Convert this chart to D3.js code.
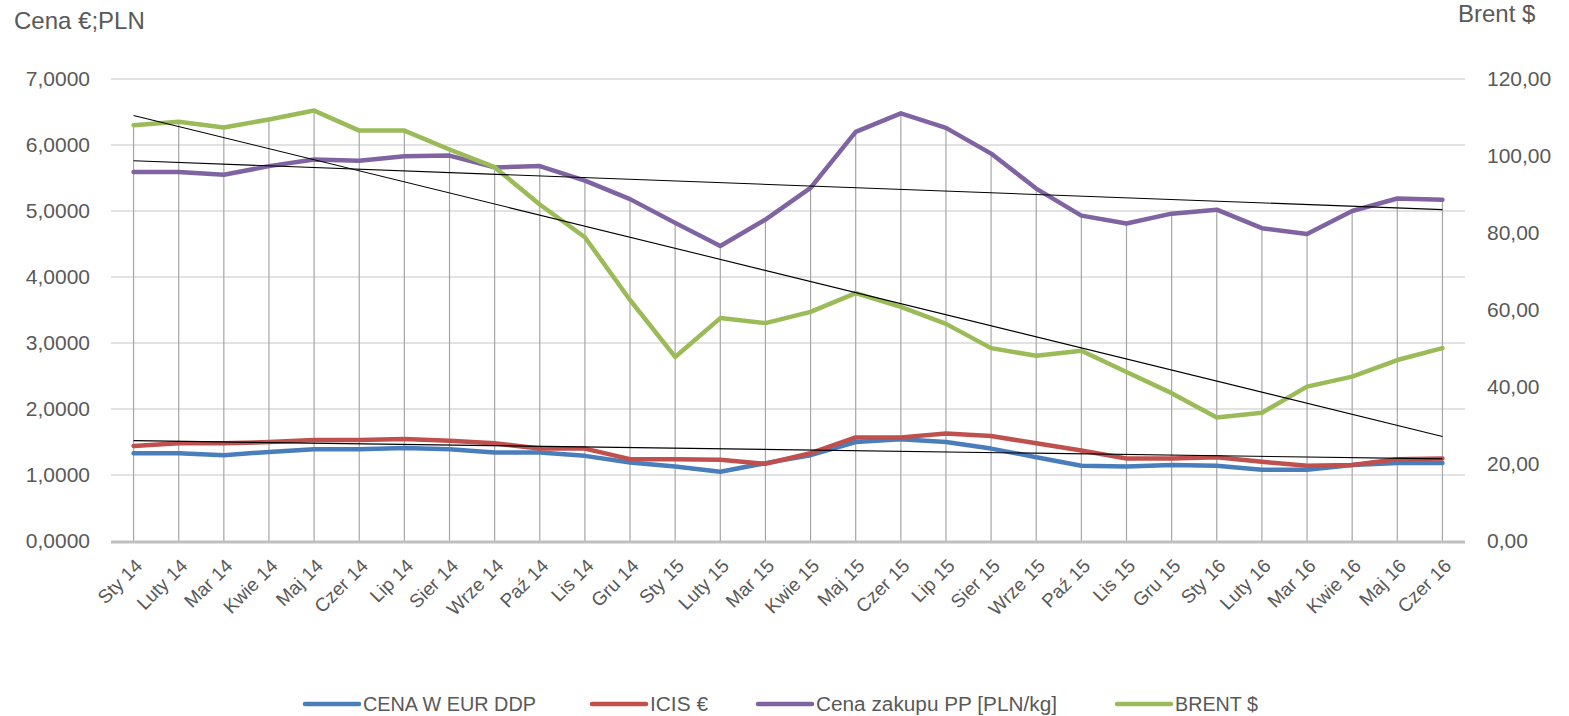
<!DOCTYPE html>
<html>
<head>
<meta charset="utf-8">
<script src="https://cdn.jsdelivr.net/npm/d3@7"></script>
<style>
  body { margin: 0; background: #fff; }
  text { font-family: "Liberation Sans", Arial, sans-serif; fill: #595959; }
</style>
</head>
<body>
<svg id="chart"></svg>
<script>
var width = 1569; // full page width
var height = 716;

// categories (months)
var categories = ["Sty 14", "Luty 14", "Mar 14", "Kwie 14", "Maj 14", "Czer 14", "Lip 14", "Sier 14", "Wrze 14", "Paź 14",
  "Lis 14", "Gru 14", "Sty 15", "Luty 15", "Mar 15", "Kwie 15", "Maj 15", "Czer 15", "Lip 15", "Sier 15",
  "Wrze 15", "Paź 15", "Lis 15", "Gru 15", "Sty 16", "Luty 16", "Mar 16", "Kwie 16", "Maj 16", "Czer 16"];

// series values
var cenaEur = [1.33, 1.33, 1.30, 1.35, 1.39, 1.39, 1.41, 1.39, 1.34, 1.34,
  1.29, 1.19, 1.13, 1.05, 1.18, 1.30, 1.50, 1.54, 1.50, 1.40,
  1.27, 1.14, 1.13, 1.15, 1.14, 1.08, 1.08, 1.15, 1.18, 1.18];
var icis = [1.44, 1.48, 1.48, 1.50, 1.53, 1.53, 1.545, 1.52, 1.48, 1.40,
  1.40, 1.24, 1.24, 1.23, 1.17, 1.33, 1.57, 1.57, 1.63, 1.59,
  1.48, 1.37, 1.25, 1.25, 1.27, 1.20, 1.14, 1.15, 1.24, 1.25];
var cenaZakupu = [5.59, 5.59, 5.55, 5.68, 5.78, 5.76, 5.83, 5.84, 5.66, 5.68,
  5.46, 5.18, 4.82, 4.47, 4.87, 5.35, 6.20, 6.48, 6.26, 5.87,
  5.34, 4.93, 4.81, 4.96, 5.02, 4.74, 4.65, 5.00, 5.19, 5.17];
var brent = [108.0, 108.9, 107.4, 109.5, 111.8, 106.6, 106.6, 101.7, 97.1, 87.4,
  78.9, 62.6, 47.8, 57.9, 56.6, 59.5, 64.4, 60.8, 56.4, 50.1,
  48.1, 49.4, 43.9, 38.4, 32.1, 33.3, 40.1, 42.7, 47.0, 50.1];

// axis ticks
var leftTicks = [0, 1, 2, 3, 4, 5, 6, 7];
var rightTicks = [0, 20, 40, 60, 80, 100, 120];

var seriesNames = ["CENA W EUR DDP", "ICIS €", "Cena zakupu PP [PLN/kg]", "BRENT $"];
var seriesColors = ["#4a7ebb", "#c0504d", "#8064a2", "#9bbb59"];

var plLocale = d3.formatLocale({ decimal: ",", thousands: " ", grouping: [3], currency: ["", " zł"] });
var fmtLeft = plLocale.format(".4f");
var fmtRight = plLocale.format(".2f");

var svg = d3.select("#chart").attr("width", width).attr("height", height);

var x = d3.scaleBand().domain(categories).range([111, 1465]);
var cx = function (c) { return x(c) + x.bandwidth() / 2; };
var yL = d3.scaleLinear().domain([0, 7]).range([541, 79]);
var yR = d3.scaleLinear().domain([0, 120]).range([541, 79]);

// Build the series list
var series = [
  { values: cenaEur, y: yL, trend: false },
  { values: icis, y: yL, trend: true },
  { values: cenaZakupu, y: yL, trend: true },
  { values: brent, y: yR, trend: true }
];

// Horizontal gridlines
svg.append("g")
  .selectAll("line")
  .data(leftTicks.slice(1))
  .enter().append("line")
  .attr("x1", 111).attr("x2", 1465)
  .attr("y1", function (d) { return yL(d); })
  .attr("y2", function (d) { return yL(d); })
  .style("stroke", "#d9d9d9")
  .style("stroke-width", 1.3);

// Drop lines, from the highest point of each category down to the axis
svg.append("g")
  .selectAll("line")
  .data(categories)
  .enter().append("line")
  .attr("x1", cx).attr("x2", cx)
  .attr("y1", function (c, i) {
    return d3.min(series, function (s) { return s.y(s.values[i]); });
  })
  .attr("y2", 541)
  .style("stroke", "#a6a6a6")
  .style("stroke-width", 1.2);

// Left axis
var leftAxis = svg.append("g")
  .attr("transform", "translate(111,0)")
  .call(d3.axisLeft(yL).tickValues(leftTicks).tickFormat(fmtLeft).tickSize(0).tickPadding(21));
leftAxis.select(".domain").remove();
leftAxis.selectAll("text").style("font-size", "21px").attr("fill", "#595959")
  .style("font-family", "'Liberation Sans', Arial, sans-serif");

// Right axis
var rightAxis = svg.append("g")
  .attr("transform", "translate(1465,0)")
  .call(d3.axisRight(yR).tickValues(rightTicks).tickFormat(fmtRight).tickSize(0).tickPadding(22));
rightAxis.select(".domain").remove();
rightAxis.selectAll("text").style("font-size", "21px").attr("fill", "#595959")
  .style("font-family", "'Liberation Sans', Arial, sans-serif");

// Bottom axis with rotated labels
var bottomAxis = svg.append("g")
  .attr("transform", "translate(0,541)")
  .call(d3.axisBottom(x).tickSize(0).tickPadding(0));
bottomAxis.select(".domain").remove();
bottomAxis.selectAll("text")
  .style("font-size", "19px")
  .style("font-family", "'Liberation Sans', Arial, sans-serif")
  .attr("fill", "#595959")
  .attr("text-anchor", "end")
  .attr("dy", null)
  .attr("y", 0)
  .attr("transform", "translate(10,26) rotate(-45)");

// Baseline
svg.append("line")
  .attr("x1", 111).attr("x2", 1465)
  .attr("y1", 542).attr("y2", 542)
  .style("stroke", "#bfbfbf")
  .style("stroke-width", 3);

// Series lines
series.forEach(function (s, k) {
  var line = d3.line()
    .x(function (d, i) { return cx(categories[i]); })
    .y(function (d) { return s.y(d); });
  svg.append("path")
    .datum(s.values)
    .attr("d", line)
    .style("fill", "none")
    .style("stroke", seriesColors[k])
    .style("stroke-width", 4.5)
    .style("stroke-linejoin", "round")
    .style("stroke-linecap", "round");
});

// Linear trend lines (least squares)
function linearFit(values) {
  var n = values.length;
  var mx = d3.mean(values, function (d, i) { return i; });
  var my = d3.mean(values);
  var num = 0, den = 0;
  values.forEach(function (v, i) { num += (i - mx) * (v - my); den += (i - mx) * (i - mx); });
  var b = num / den;
  var a = my - b * mx;
  return [a, a + b * (n - 1)];
}

series.forEach(function (s) {
  if (!s.trend) return;
  var ends = linearFit(s.values);
  svg.append("line")
    .attr("x1", cx(categories[0]))
    .attr("x2", cx(categories[categories.length - 1]))
    .attr("y1", s.y(ends[0]))
    .attr("y2", s.y(ends[1]))
    .style("stroke", "#000")
    .style("stroke-width", 1.1);
});

// Axis titles
svg.append("text").attr("x", 14).attr("y", 29).style("font-size", "24px").text("Cena €;PLN");
svg.append("text").attr("x", 1458).attr("y", 22).style("font-size", "24px").text("Brent $");

// Legend
var legendX = [305, 592, 758, 1117];
var legendTextWidth = [173, 58, 241, 83];
var legend = svg.append("g").selectAll("g")
  .data(seriesNames)
  .enter().append("g")
  .attr("transform", function (d, i) { return "translate(" + legendX[i] + ",704)"; });
legend.append("line")
  .attr("x1", 0).attr("x2", 54).attr("y1", 0).attr("y2", 0)
  .style("stroke", function (d, i) { return seriesColors[i]; })
  .style("stroke-width", 4.5)
  .style("stroke-linecap", "round");
legend.append("text")
  .attr("x", 58).attr("y", 0).attr("dy", "0.36em")
  .attr("textLength", function (d, i) { return legendTextWidth[i]; })
  .attr("lengthAdjust", "spacingAndGlyphs")
  .style("font-size", "20px")
  .text(function (d) { return d; });
</script>
</body>
</html>
